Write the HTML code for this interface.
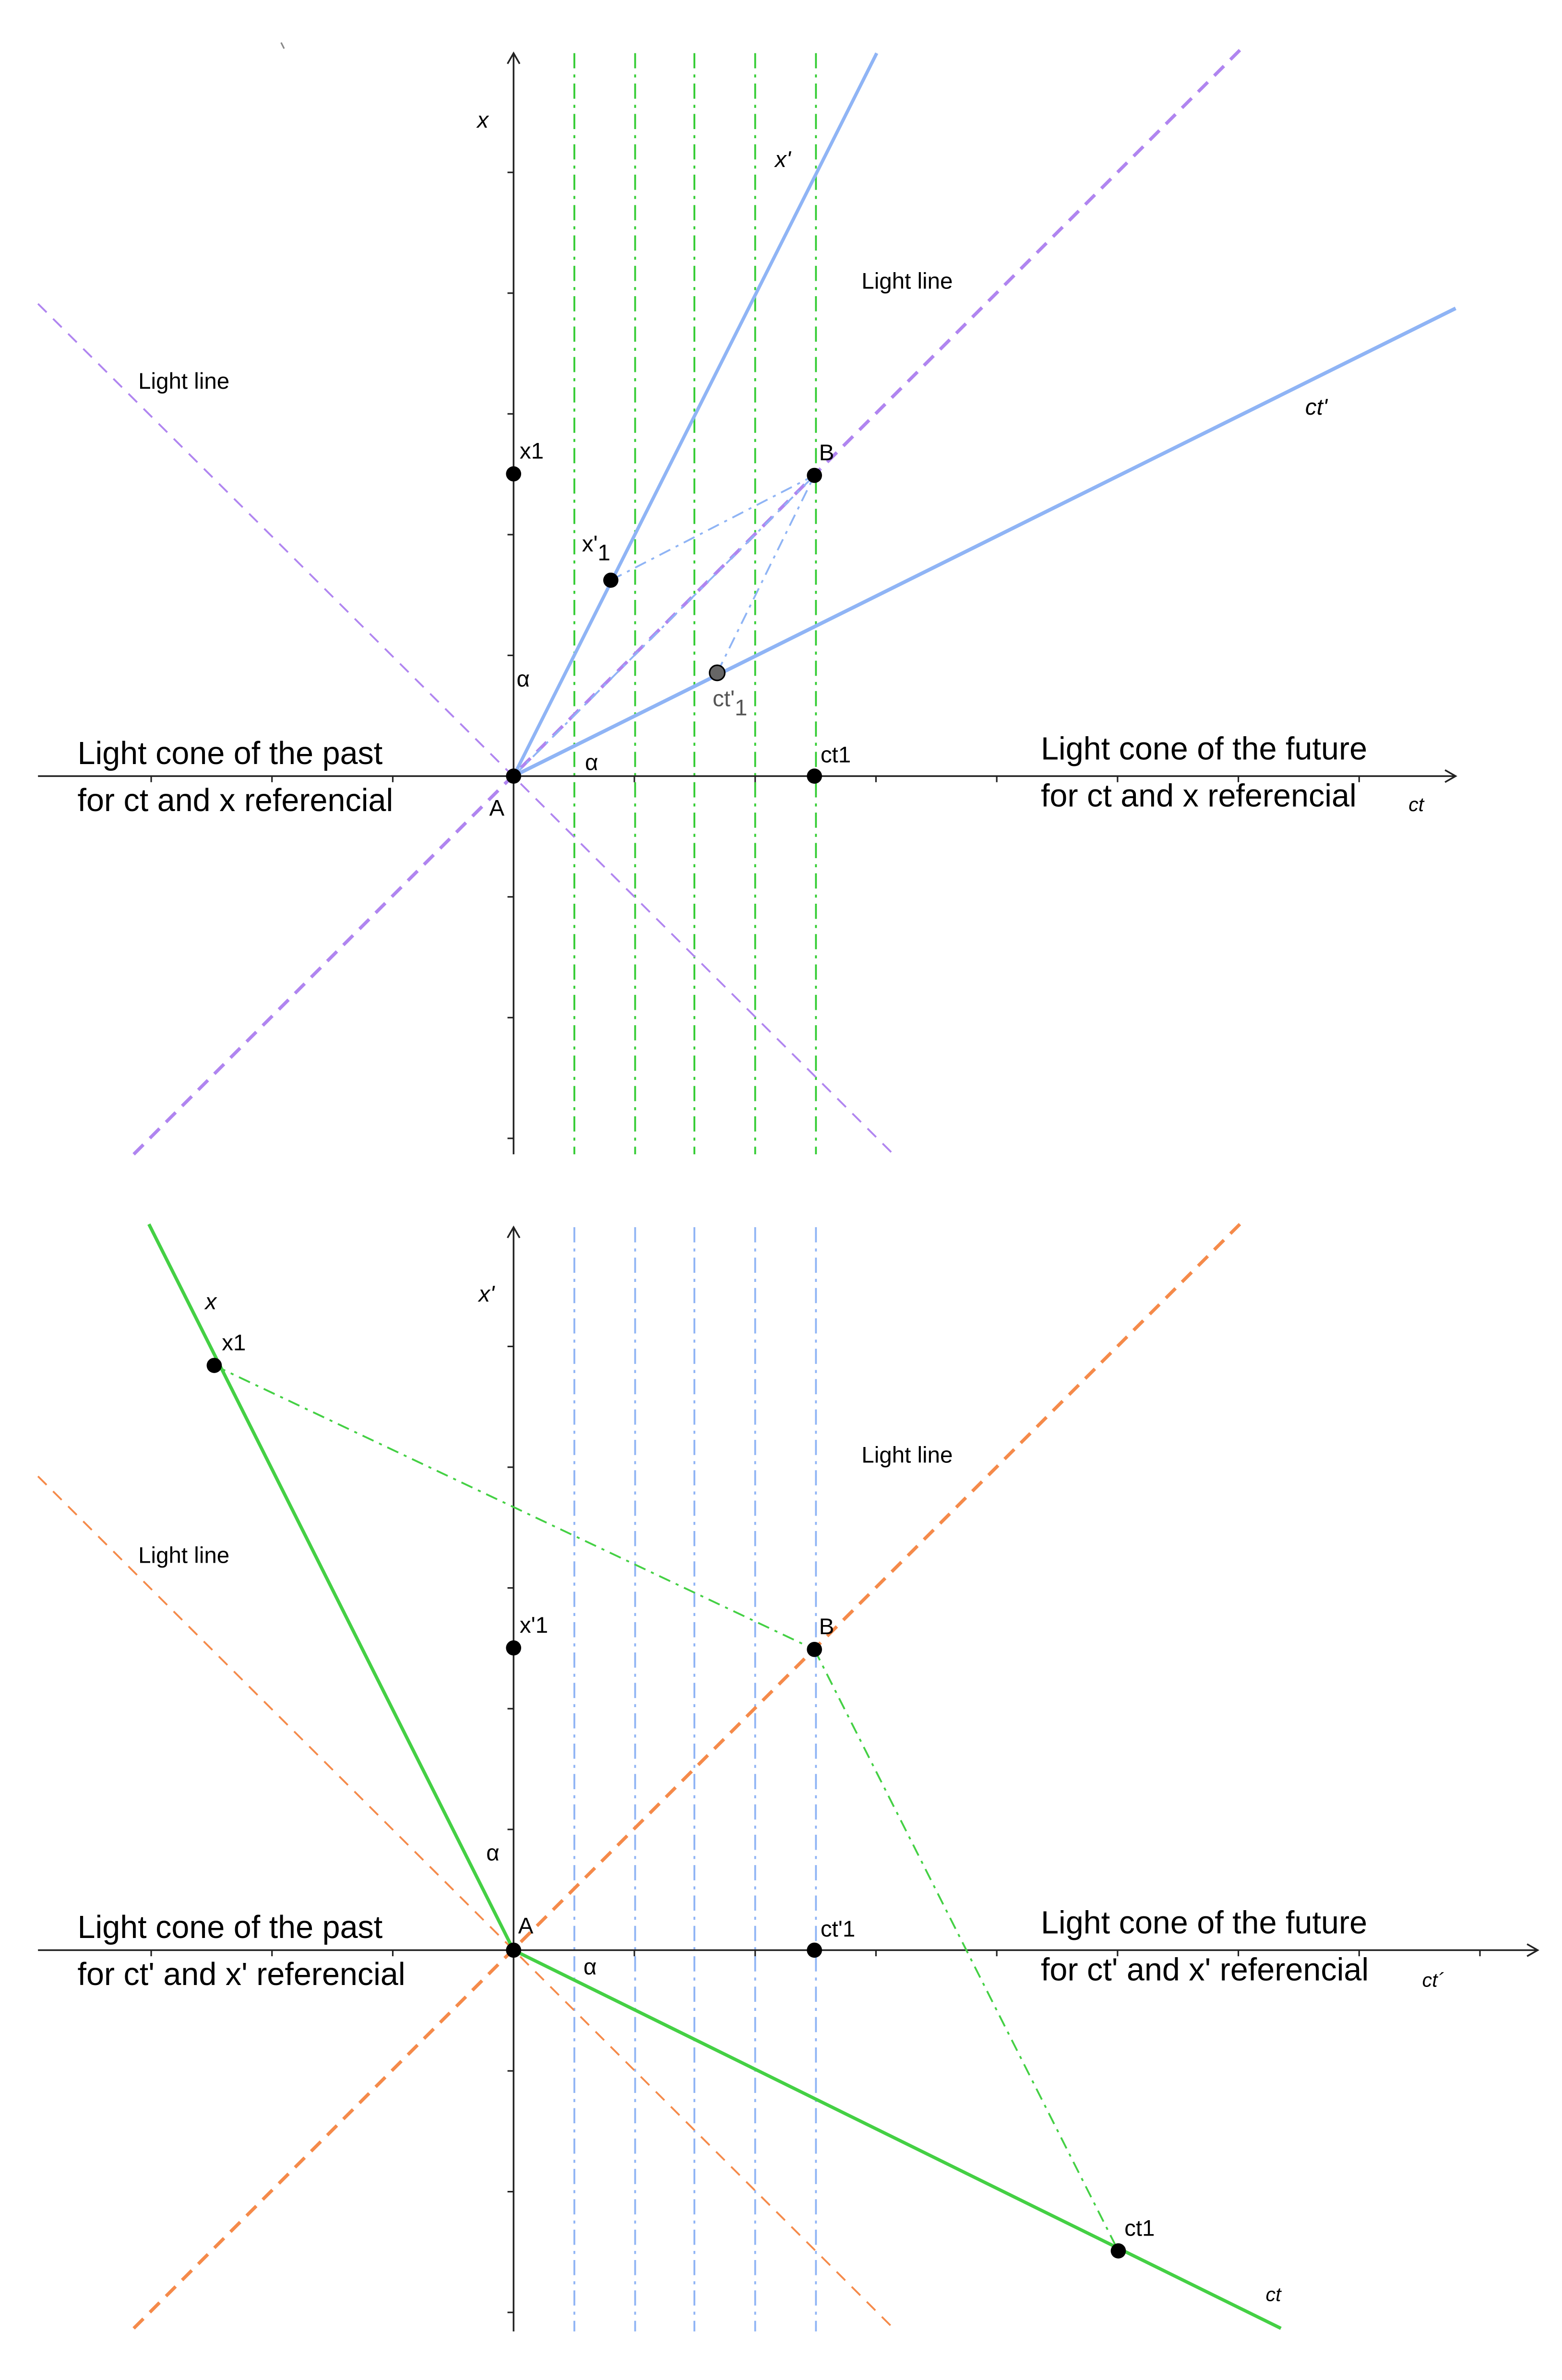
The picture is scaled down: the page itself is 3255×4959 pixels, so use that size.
<!DOCTYPE html>
<html><head><meta charset="utf-8"><style>html,body{margin:0;padding:0;background:#fff}svg{display:block}</style></head>
<body>
<svg width="3255" height="4959" viewBox="0 0 1028 1567" preserveAspectRatio="none" xmlns="http://www.w3.org/2000/svg" font-family="Liberation Sans, sans-serif">
<rect width="1028" height="1567" fill="#fff"/>
<g>
<line x1="185" y1="28" x2="187" y2="32" stroke="#888" stroke-width="1"/>
<g stroke="#33cc33" stroke-width="1.2" stroke-dasharray="10,4,2,4">
<line x1="378" y1="35" x2="378" y2="760"/><line x1="418" y1="35" x2="418" y2="760"/>
<line x1="457" y1="35" x2="457" y2="760"/><line x1="497" y1="35" x2="497" y2="760"/>
<line x1="537" y1="35" x2="537" y2="760"/>
</g>
<line x1="88" y1="760" x2="816" y2="33" stroke="#b085f0" stroke-width="2.2" stroke-dasharray="9,6"/>
<line x1="25" y1="200" x2="588" y2="760" stroke="#b085f0" stroke-width="1.2" stroke-dasharray="8,6"/>
<line x1="25" y1="511" x2="958" y2="511" stroke="#222" stroke-width="1.1"/>
<path d="M951,507 L958,511 L951,515" fill="none" stroke="#222" stroke-width="1.1"/>
<line x1="338" y1="760" x2="338" y2="35" stroke="#222" stroke-width="1.1"/>
<path d="M334,42 L338,35 L342,42" fill="none" stroke="#222" stroke-width="1.1"/>
<g stroke="#222" stroke-width="1">
<line x1="334" y1="431.5" x2="338" y2="431.5"/><line x1="334" y1="352" x2="338" y2="352"/><line x1="334" y1="272.5" x2="338" y2="272.5"/><line x1="334" y1="193" x2="338" y2="193"/><line x1="334" y1="113.5" x2="338" y2="113.5"/>
<line x1="334" y1="590.5" x2="338" y2="590.5"/><line x1="334" y1="670" x2="338" y2="670"/><line x1="334" y1="749.5" x2="338" y2="749.5"/>
<line x1="417.5" y1="511" x2="417.5" y2="515"/><line x1="497" y1="511" x2="497" y2="515"/><line x1="576.5" y1="511" x2="576.5" y2="515"/><line x1="656" y1="511" x2="656" y2="515"/><line x1="735.5" y1="511" x2="735.5" y2="515"/><line x1="815" y1="511" x2="815" y2="515"/><line x1="894.5" y1="511" x2="894.5" y2="515"/>
<line x1="258.5" y1="511" x2="258.5" y2="515"/><line x1="179" y1="511" x2="179" y2="515"/><line x1="99.5" y1="511" x2="99.5" y2="515"/>
</g>
<line x1="338" y1="511" x2="577" y2="35" stroke="#8fb4f5" stroke-width="2.2"/>
<line x1="338" y1="511" x2="958" y2="203" stroke="#8fb4f5" stroke-width="2.4"/>
<g stroke="#8fb4f5" stroke-width="1.2" stroke-dasharray="8,4,2,4">
<line x1="402" y1="382" x2="536" y2="313"/><line x1="472" y1="443" x2="536" y2="313"/>
<line x1="338" y1="511" x2="536" y2="313"/>
</g>
<circle cx="338" cy="511" r="5" fill="#000"/>
<circle cx="338" cy="312" r="5" fill="#000"/>
<circle cx="536" cy="313" r="5" fill="#000"/>
<circle cx="402" cy="382" r="5" fill="#000"/>
<circle cx="472" cy="443" r="5" fill="#666" stroke="#000" stroke-width="1"/>
<circle cx="536" cy="511" r="5" fill="#000"/>
<g font-size="15" fill="#000">
<text x="314" y="84" font-style="italic">x</text>
<text x="510" y="110" font-style="italic">x'</text>
<text x="567" y="190">Light line</text>
<text x="91" y="256">Light line</text>
<text x="859" y="273" font-style="italic">ct'</text>
<text x="342" y="302">x1</text>
<text x="539" y="303">B</text>
<text x="383" y="363">x'<tspan dy="6">1</tspan></text>
<text x="340" y="452">α</text>
<text x="469" y="465" fill="#555">ct'<tspan dy="6">1</tspan></text>
<text x="385" y="507">α</text>
<text x="540" y="502">ct1</text>
<text x="322" y="537">A</text>
<text x="927" y="534" font-style="italic" font-size="13">ct</text>
</g>
<g font-size="21" fill="#000">
<text x="51" y="503">Light cone of the past</text>
<text x="51" y="534">for ct and x referencial</text>
<text x="685" y="500">Light cone of the future</text>
<text x="685" y="531">for ct and x referencial</text>
</g>
</g>
<g>
<g stroke="#8fb4f5" stroke-width="1.2" stroke-dasharray="10,4,2,4">
<line x1="378" y1="808" x2="378" y2="1535"/><line x1="418" y1="808" x2="418" y2="1535"/>
<line x1="457" y1="808" x2="457" y2="1535"/><line x1="497" y1="808" x2="497" y2="1535"/>
<line x1="537" y1="808" x2="537" y2="1535"/>
</g>
<line x1="88" y1="1533" x2="816" y2="806" stroke="#f58a4a" stroke-width="2.2" stroke-dasharray="9,6"/>
<line x1="25" y1="972" x2="588" y2="1533" stroke="#f58a4a" stroke-width="1.2" stroke-dasharray="8,6"/>
<line x1="25" y1="1284" x2="1012" y2="1284" stroke="#222" stroke-width="1.1"/>
<path d="M1005,1280 L1012,1284 L1005,1288" fill="none" stroke="#222" stroke-width="1.1"/>
<line x1="338" y1="1535" x2="338" y2="808" stroke="#222" stroke-width="1.1"/>
<path d="M334,815 L338,808 L342,815" fill="none" stroke="#222" stroke-width="1.1"/>
<g stroke="#222" stroke-width="1">
<line x1="334" y1="1204.5" x2="338" y2="1204.5"/><line x1="334" y1="1125" x2="338" y2="1125"/><line x1="334" y1="1045.5" x2="338" y2="1045.5"/><line x1="334" y1="966" x2="338" y2="966"/><line x1="334" y1="886.5" x2="338" y2="886.5"/>
<line x1="334" y1="1363.5" x2="338" y2="1363.5"/><line x1="334" y1="1443" x2="338" y2="1443"/><line x1="334" y1="1522.5" x2="338" y2="1522.5"/>
<line x1="417.5" y1="1284" x2="417.5" y2="1288"/><line x1="497" y1="1284" x2="497" y2="1288"/><line x1="576.5" y1="1284" x2="576.5" y2="1288"/><line x1="656" y1="1284" x2="656" y2="1288"/><line x1="735.5" y1="1284" x2="735.5" y2="1288"/><line x1="815" y1="1284" x2="815" y2="1288"/><line x1="894.5" y1="1284" x2="894.5" y2="1288"/><line x1="974" y1="1284" x2="974" y2="1288"/>
<line x1="258.5" y1="1284" x2="258.5" y2="1288"/><line x1="179" y1="1284" x2="179" y2="1288"/><line x1="99.5" y1="1284" x2="99.5" y2="1288"/>
</g>
<line x1="98" y1="806" x2="338" y2="1284" stroke="#44d044" stroke-width="2.2"/>
<line x1="338" y1="1284" x2="843" y2="1533" stroke="#44d044" stroke-width="2.2"/>
<g stroke="#44d044" stroke-width="1.2" stroke-dasharray="8,4,2,4">
<line x1="141" y1="899" x2="536" y2="1086"/><line x1="536" y1="1086" x2="736" y2="1482"/>
</g>
<circle cx="338" cy="1284" r="5" fill="#000"/>
<circle cx="141" cy="899" r="5" fill="#000"/>
<circle cx="536" cy="1086" r="5" fill="#000"/>
<circle cx="338" cy="1085" r="5" fill="#000"/>
<circle cx="536" cy="1284" r="5" fill="#000"/>
<circle cx="736" cy="1482" r="5" fill="#000"/>
<g font-size="15" fill="#000">
<text x="135" y="862" font-style="italic">x</text>
<text x="146" y="889">x1</text>
<text x="315" y="857" font-style="italic">x'</text>
<text x="567" y="963">Light line</text>
<text x="91" y="1029">Light line</text>
<text x="342" y="1075">x'1</text>
<text x="539" y="1076">B</text>
<text x="320" y="1225">α</text>
<text x="341" y="1273">A</text>
<text x="540" y="1275">ct'1</text>
<text x="384" y="1300">α</text>
<text x="936" y="1308" font-style="italic" font-size="13">ct´</text>
<text x="740" y="1472">ct1</text>
<text x="833" y="1515" font-style="italic" font-size="13">ct</text>
</g>
<g font-size="21" fill="#000">
<text x="51" y="1276">Light cone of the past</text>
<text x="51" y="1307">for ct' and x' referencial</text>
<text x="685" y="1273">Light cone of the future</text>
<text x="685" y="1304">for ct' and x' referencial</text>
</g>
</g>
</svg>
</body></html>
